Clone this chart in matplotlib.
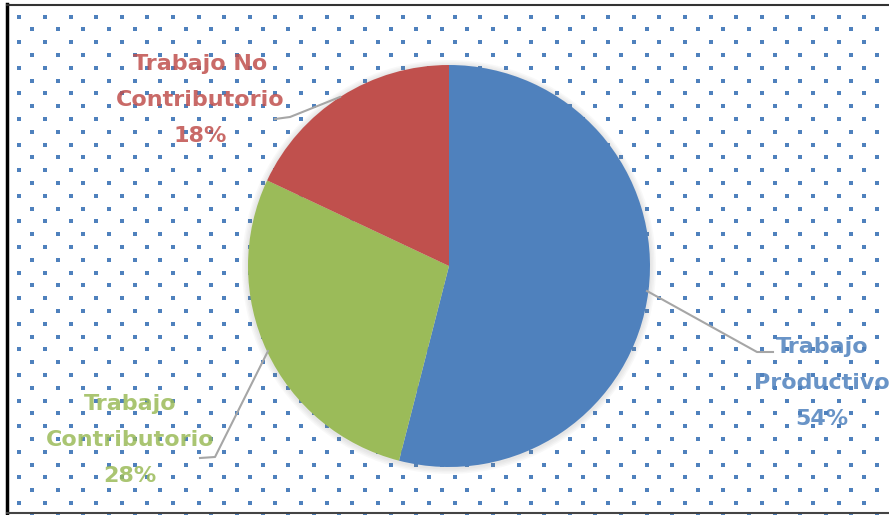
import numpy as np
import matplotlib.pyplot as plt
from matplotlib.patches import Circle

# datos del grafico
categorias = ['Trabajo\nProductivo', 'Trabajo\nContributorio', 'Trabajo No\nContributorio']
porcentajes = [54, 28, 18]
colores = ['#4F81BD', '#9BBB59', '#C0504D']

W, H = 889, 515
fig = plt.figure(figsize=(W / 100, H / 100), dpi=100)
ax = fig.add_axes([0, 0, 1, 1])

# fondo punteado (patron de Excel)
xs, ys = [], []
for k in range(40):
    y = 16.5 + 12.8 * k
    x0 = 19.3 if k % 2 == 0 else 32.1
    for x in np.arange(x0, W, 25.6):
        xs.append(x)
        ys.append(H - y)
ax.scatter(xs, ys, s=5.5, marker='s', color='#4F81BD', linewidths=0, zorder=1)

# marco
ax.plot([7, 7], [H - 4, H - 513], color='black', lw=2.5, zorder=5)
ax.plot([7, W], [H - 4.5, H - 4.5], color='#333333', lw=1.5, zorder=5)
ax.plot([7, W], [H - 513, H - 513], color='#444444', lw=1.5, zorder=5)

cx, cy, r = 449, H - 266, 201

# sombra suave
for i in range(4):
    ax.add_patch(Circle((cx, cy - 1), r + 6 - i * 1.5, color='gray', alpha=0.05, lw=0, zorder=2))

ax.pie(porcentajes, colors=colores, startangle=90, counterclock=False,
       center=(cx, cy), radius=r, frame=True,
       wedgeprops=dict(linewidth=0, zorder=3))
ax.set_xlim(0, W)
ax.set_ylim(0, H)
ax.set_aspect('equal')
ax.axis('off')

# lineas guia
guias = [
    [(647, 291), (757, 352), (773, 352)],
    [(268, 351), (215, 457), (200, 458)],
    [(340, 97), (290, 117), (275, 119)],
]
for g in guias:
    ax.plot([p[0] for p in g], [H - p[1] for p in g], color='#A6A6A6', lw=1.5, zorder=4)

etiquetas = [(822, 383), (130, 440), (200, 100)]
for cat, pct, col, (tx, ty) in zip(categorias, porcentajes, colores, etiquetas):
    ax.text(tx, H - ty, f'{cat}\n{pct}%', ha='center', va='center', color=col,
            fontsize=16, fontweight='bold', family='DejaVu Sans', linespacing=1.98,
            alpha=0.85, zorder=6)

fig.savefig('out.png', dpi=100)
